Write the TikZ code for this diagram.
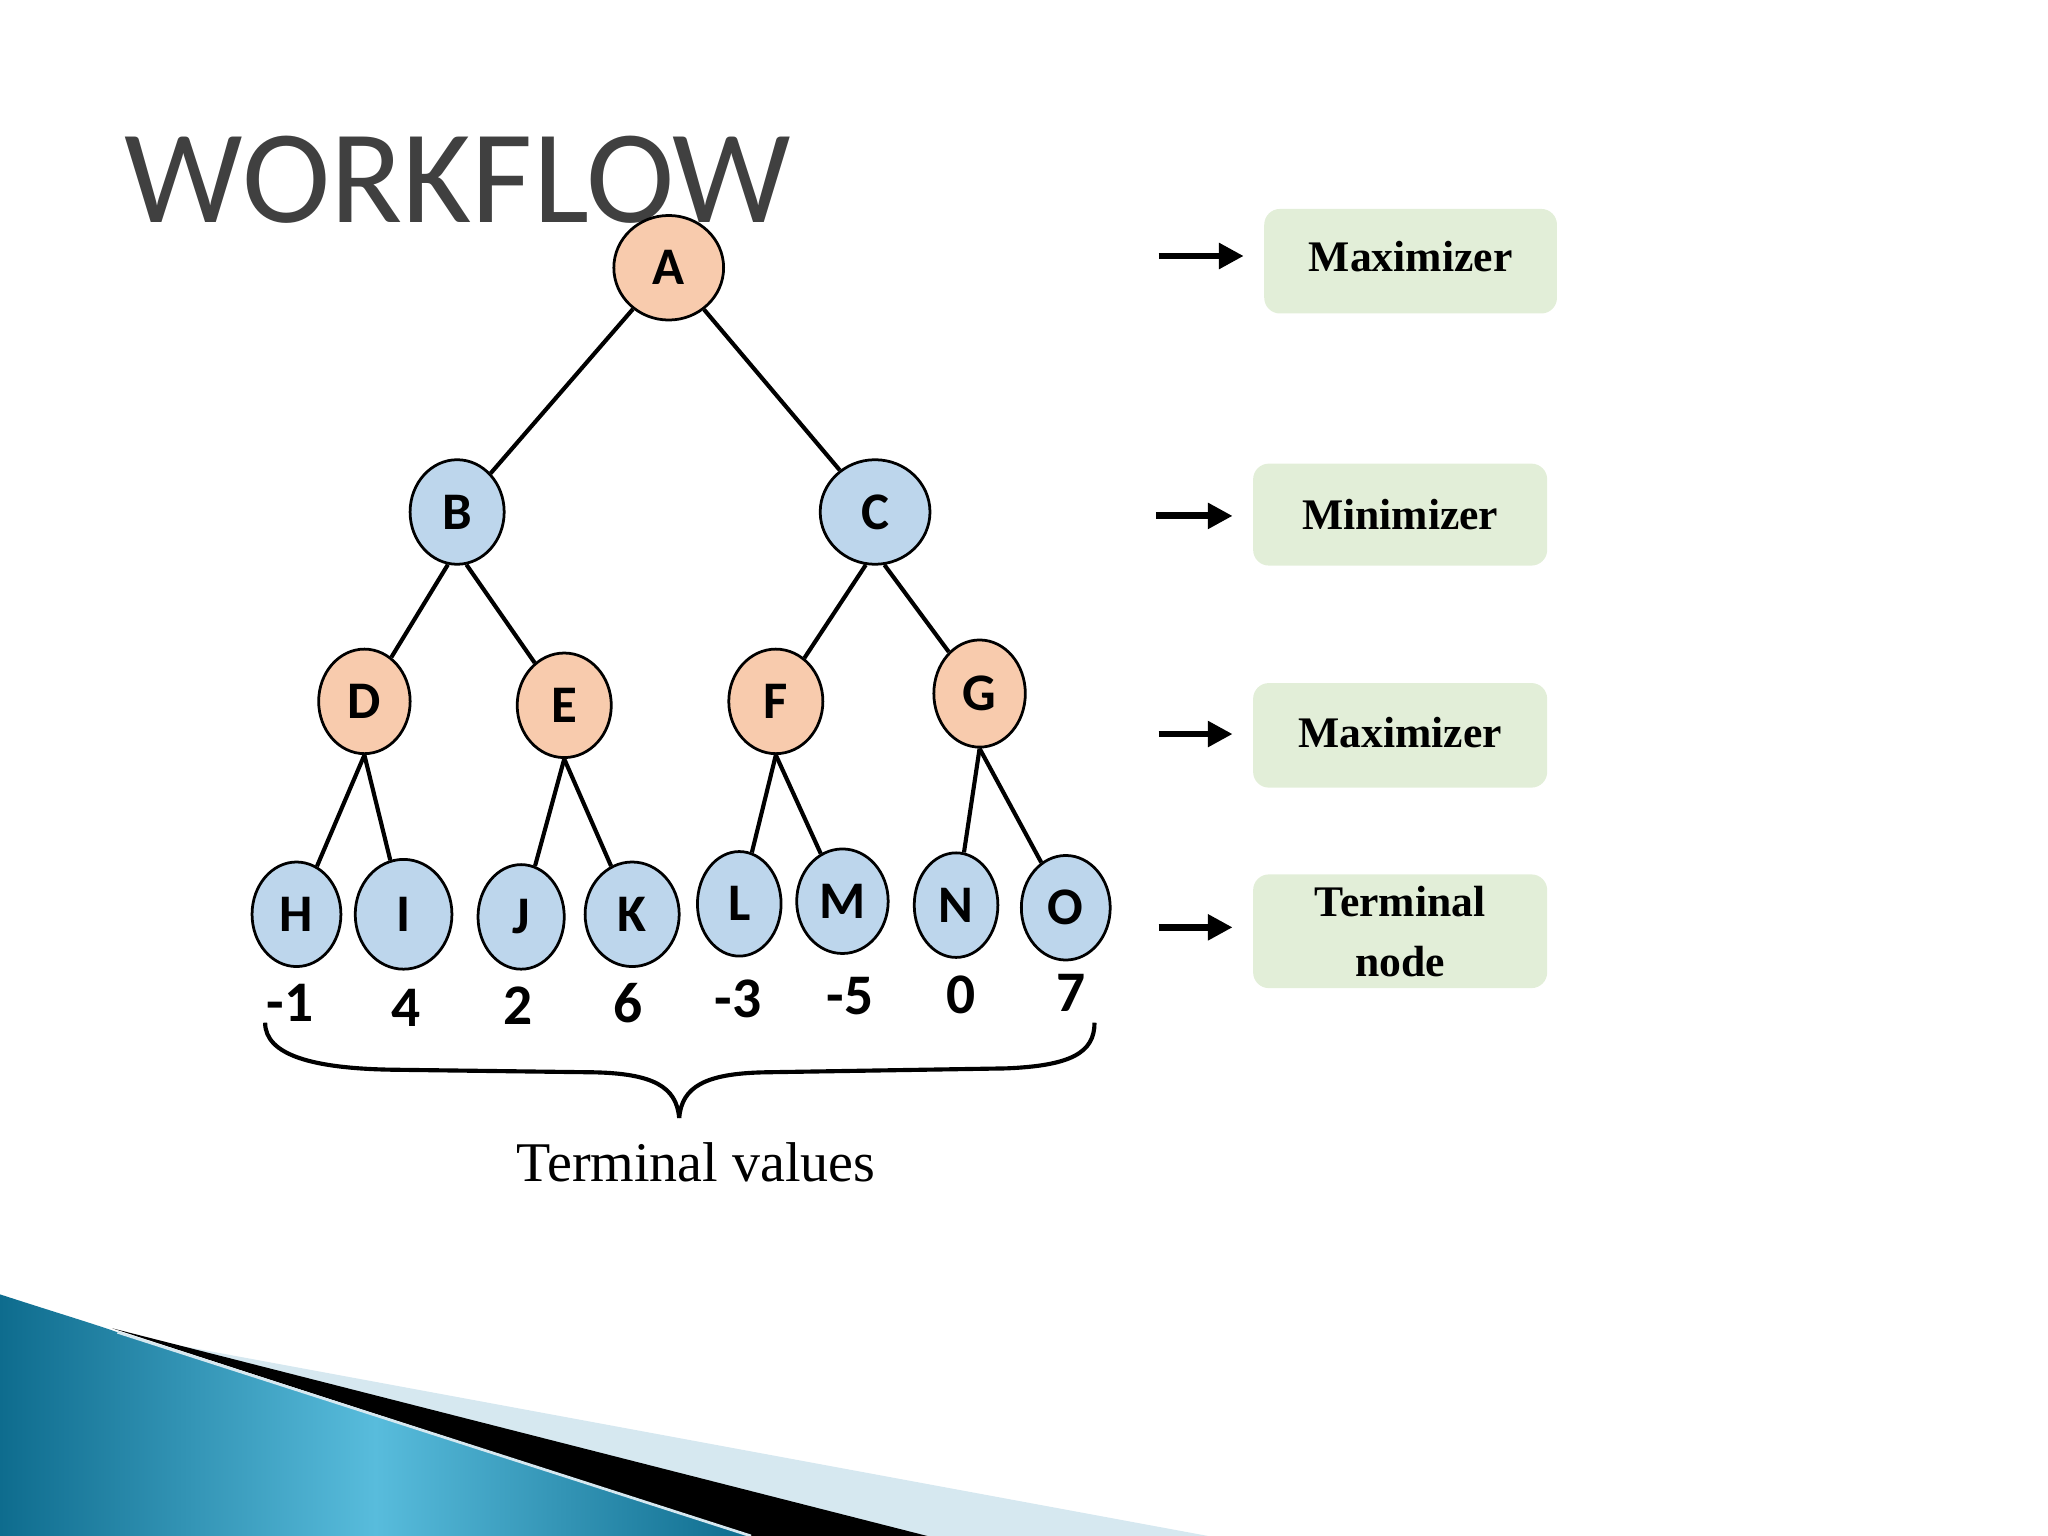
\documentclass[tikz,border=0pt]{standalone}
\usepackage{fontspec}
\setmainfont{Liberation Serif}
\newfontfamily\calib{Carlito}
\usetikzlibrary{shapes.geometric,arrows.meta}
\definecolor{maxfill}{RGB}{248,203,173}
\definecolor{minfill}{RGB}{189,214,236}
\definecolor{boxfill}{RGB}{226,238,216}
\definecolor{titlegray}{RGB}{64,64,64}
\definecolor{tealdark}{RGB}{14,108,142}
\definecolor{teallight}{RGB}{88,188,220}
\definecolor{paleblue}{RGB}{214,232,240}
\begin{document}
\begin{tikzpicture}[x=0.01cm,y=-0.01cm,
  tnode/.style={ellipse,draw=black,line width=0.6pt,inner sep=0pt,
    font=\calib\bfseries\fontsize{11.5}{12}\selectfont},
  maxn/.style={tnode,fill=maxfill},
  minn/.style={tnode,fill=minfill},
  edge/.style={line width=0.9pt,black},
  val/.style={font=\calib\bfseries\fontsize{12.5}{14}\selectfont},
  lbox/.style={rounded corners=1.2mm,fill=boxfill,inner sep=0pt,
    minimum width=22.4mm,minimum height=8mm,align=center,
    font=\bfseries\fontsize{9.5}{13}\selectfont},
  larrow/.style={-{Triangle[length=1.9mm,width=1.9mm]},line width=1.5pt,shorten >=1.5mm}
]
\useasboundingbox (0,0) rectangle (1568,1176);

% bottom decoration
\fill[paleblue] (120,1027) -- (925,1176) -- (700,1176) -- cycle;
\fill[black] (86,1017) -- (710,1176) -- (575,1176) -- cycle;
\shade[left color=tealdark, right color=tealdark, middle color=teallight]
  (0,991) .. controls (40,1004) and (70,1013) .. (90,1020) -- (575,1176) -- (0,1176) -- cycle;
\draw[paleblue,line width=0.6pt] (90,1020) -- (575,1176);

% title
\node[anchor=base west,inner sep=0pt,text=titlegray,
  font=\calib\fontsize{29}{34}\selectfont] (title) at (95,170) {WORKFLOW};

% tree nodes
\node[maxn,minimum width=8.4mm,minimum height=8mm] (A) at (512,205) {A};
\node[minn,minimum width=7.2mm,minimum height=8mm] (B) at (350,392) {B};
\node[minn,minimum width=8.4mm,minimum height=8mm] (C) at (670,392) {C};
\node[maxn,minimum width=7mm,minimum height=8mm] (D) at (279,537) {D};
\node[maxn,minimum width=7.2mm,minimum height=8mm] (E) at (432,540) {E};
\node[maxn,minimum width=7.2mm,minimum height=8mm] (F) at (594,537) {F};
\node[maxn,minimum width=7mm,minimum height=8.2mm] (G) at (750,531) {G};
\node[minn,minimum width=6.8mm,minimum height=8mm] (H) at (227,700) {H};
\node[minn,minimum width=7.4mm,minimum height=8.4mm] (I) at (309,700) {I};
\node[minn,minimum width=6.6mm,minimum height=8mm] (J) at (399,702) {J};
\node[minn,minimum width=7.2mm,minimum height=8mm] (K) at (484,700) {K};
\node[minn,minimum width=6.4mm,minimum height=8mm] (L) at (566,692) {L};
\node[minn,minimum width=7mm,minimum height=8mm] (M) at (645,690) {M};
\node[minn,minimum width=6.4mm,minimum height=8mm] (N) at (732,693) {N};
\node[minn,minimum width=6.8mm,minimum height=8mm] (O) at (816,695) {O};

% edges
\draw[edge] (A) -- (B);
\draw[edge] (A) -- (C);
\draw[edge] (B.-100) -- (D);
\draw[edge] (B.-80) -- (E);
\draw[edge] (C.-100) -- (F);
\draw[edge] (C.-80) -- (G);
\draw[edge] (D.south) -- (H);
\draw[edge] (D.south) -- (I);
\draw[edge] (E.south) -- (J);
\draw[edge] (E.south) -- (K);
\draw[edge] (F.south) -- (L);
\draw[edge] (F.south) -- (M);
\draw[edge] (G.south) -- (N);
\draw[edge] (G.south) -- (O);

% terminal values
\node[val] (vH) at (222,768) {-1};
\node[val] (vI) at (311,772) {4};
\node[val] (vJ) at (397,770) {2};
\node[val] (vK) at (481,768) {6};
\node[val] (vL) at (565,765) {-3};
\node[val] (vM) at (651,763) {-5};
\node[val] (vN) at (736,762) {0};
\node[val] (vO) at (820,760) {7};

% brace
\draw[line width=0.9pt] (203,783) .. controls (203,808) and (240,818) .. (300,819)
  -- (455,821) .. controls (500,822) and (518,832) .. (520,856);
\draw[line width=0.9pt] (520,856) .. controls (522,832) and (540,822) .. (585,821)
  -- (770,818) .. controls (820,816) and (838,806) .. (838,783);
\node[font=\fontsize{12.2}{14}\selectfont] (tv) at (533,890) {Terminal values};

% legend boxes
\node[lbox,minimum width=22.4mm,minimum height=8mm] (b1) at (1080,200) {\raisebox{0.7mm}{Maximizer}};
\node[lbox,minimum width=22.5mm,minimum height=7.8mm] (b2) at (1072,394) {Minimizer};
\node[lbox,minimum width=22.5mm,minimum height=8mm] (b3) at (1072,563) {\raisebox{0.4mm}{Maximizer}};
\node[lbox,minimum width=22.5mm,minimum height=8.7mm] (b4) at (1072,713) {Terminal\\node};

\coordinate (s1) at (887,196);
\coordinate (s2) at (885,395);
\coordinate (s3) at (887,562);
\coordinate (s4) at (887,710);
\draw[larrow] (s1) -- (s1 -| b1.west);
\draw[larrow] (s2) -- (s2 -| b2.west);
\draw[larrow] (s3) -- (s3 -| b3.west);
\draw[larrow] (s4) -- (s4 -| b4.west);
\end{tikzpicture}
\end{document}
